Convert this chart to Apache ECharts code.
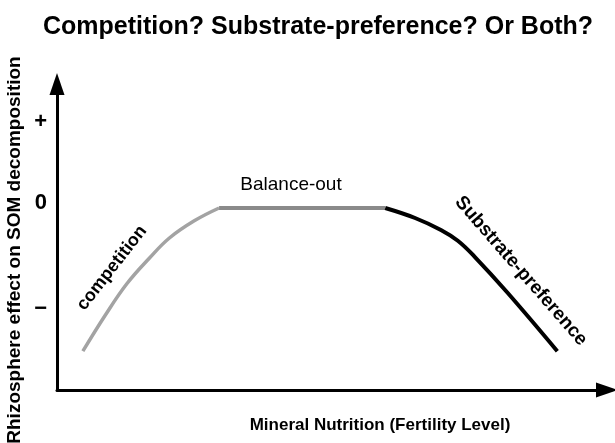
<!DOCTYPE html>
<html>
<head>
<meta charset="utf-8">
<script src="https://cdn.jsdelivr.net/npm/echarts@6/dist/echarts.min.js"></script>
<style>html,body{margin:0;padding:0;background:#fff}#c{width:615px;height:443px}</style>
</head>
<body>
<div id="c"></div>
<script>
// x: mineral nutrition (0-100 schematic), y: rhizosphere effect (0 = neutral)
var competitionX = [4.67, 8.62, 12.57, 16.7, 20.29, 24.78, 29.26];
var competitionY = [-1.79, -1.35, -0.95, -0.625, -0.375, -0.16, 0];
var balanceX = [29.26, 59.25];
var balanceY = [0, 0];
var substrateX = [59.25, 64.63, 69.3, 72.35, 75.4, 81.33, 90.31];
var substrateY = [0, -0.125, -0.275, -0.41, -0.61, -1.06, -1.79];
var yTickValues = [1.075, 0.06, -1.26];
var yTickLabels = ['+', '0', '\u2212'];

function pairs(xs, ys) { return xs.map(function (x, i) { return [x, ys[i]]; }); }
var labelMap = {};
yTickValues.forEach(function (v, i) { labelMap[v] = yTickLabels[i]; });

var FONT = "'Liberation Sans', Arial, sans-serif";
var chart = echarts.init(document.getElementById('c'));
chart.setOption({
  animation: false,
  backgroundColor: '#fff',
  grid: { left: 57, right: 4, top: 80, bottom: 53 },
  xAxis: {
    type: 'value', min: 0, max: 100,
    axisLine: { show: true, onZero: false, symbol: ['none', 'triangle'], symbolSize: [15, 22], symbolOffset: [0, -4], lineStyle: { color: '#000', width: 3 } },
    axisTick: { show: false }, axisLabel: { show: false }, splitLine: { show: false }
  },
  yAxis: {
    type: 'value', min: -2.275, max: 1.6,
    axisLine: { show: true, onZero: false, symbol: ['none', 'triangle'], symbolSize: [15, 22], symbolOffset: [0, -4], lineStyle: { color: '#000', width: 3 } },
    axisTick: { show: false }, splitLine: { show: false },
    axisLabel: {
      show: true, customValues: yTickValues, margin: 10,
      fontFamily: FONT, fontWeight: 'bold', fontSize: 22, color: '#000',
      formatter: function (v) { return labelMap[v] !== undefined ? labelMap[v] : ''; }
    }
  },
  series: [
    { type: 'line', data: pairs(competitionX, competitionY), smooth: 0.4, showSymbol: false, lineStyle: { color: '#a3a3a3', width: 3.5 } },
    { type: 'line', data: pairs(balanceX, balanceY), showSymbol: false, lineStyle: { color: '#8a8a8a', width: 4 } },
    { type: 'line', data: pairs(substrateX, substrateY), smooth: 0.4, showSymbol: false, lineStyle: { color: '#000', width: 4 } }
  ],
  graphic: [
    { type: 'text', x: 318, y: 27, style: { text: 'Competition? Substrate-preference? Or Both?', font: 'bold 25px ' + FONT, fill: '#000', textAlign: 'center', textVerticalAlign: 'middle' } },
    { type: 'text', x: 15, y: 250, rotation: Math.PI / 2, style: { text: 'Rhizosphere effect on SOM decomposition', font: 'bold 19px ' + FONT, fill: '#000', textAlign: 'center', textVerticalAlign: 'middle' } },
    { type: 'text', x: 380, y: 425, style: { text: 'Mineral Nutrition (Fertility Level)', font: 'bold 17px ' + FONT, fill: '#000', textAlign: 'center', textVerticalAlign: 'middle' } },
    { type: 'text', x: 291, y: 185, style: { text: 'Balance-out', font: '19px ' + FONT, fill: '#000', textAlign: 'center', textVerticalAlign: 'middle' } },
    { type: 'text', x: 112, y: 268, rotation: 0.91, style: { text: 'competition', font: 'bold 18px ' + FONT, fill: '#000', textAlign: 'center', textVerticalAlign: 'middle' } },
    { type: 'text', x: 521, y: 271, rotation: -0.855, style: { text: 'Substrate-preference', font: 'bold 19px ' + FONT, fill: '#000', textAlign: 'center', textVerticalAlign: 'middle' } }
  ]
});
</script>
</body>
</html>
